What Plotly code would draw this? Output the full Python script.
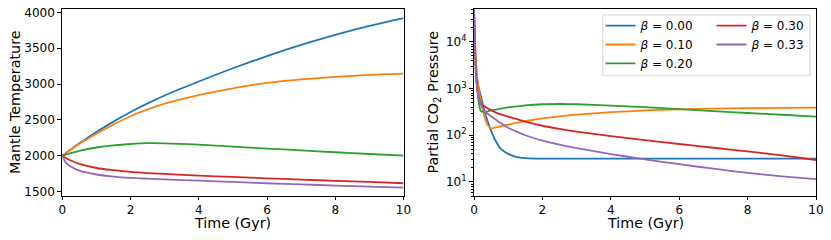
import plotly.graph_objects as go

# ---------------- data ----------------
t_left = [0, 0.1, 0.25, 0.5, 1, 1.5, 2, 2.5, 3, 4, 5, 6, 7, 8, 9, 10]
temp_b000 = [2000, 2035, 2088, 2172, 2330, 2475, 2610, 2730, 2840, 3035, 3220, 3390, 3545, 3685, 3810, 3920]
temp_b010 = [2000, 2034, 2085, 2165, 2305, 2435, 2550, 2645, 2725, 2845, 2940, 3015, 3065, 3100, 3128, 3145]
temp_b020 = [2000, 2016, 2037, 2068, 2114, 2144, 2163, 2174, 2172, 2153, 2127, 2099, 2074, 2048, 2023, 2000]
temp_b030 = [2000, 1968, 1932, 1884, 1828, 1797, 1773, 1757, 1745, 1721, 1703, 1684, 1666, 1648, 1633, 1615]
temp_b033 = [2000, 1905, 1848, 1790, 1737, 1708, 1690, 1679, 1669, 1651, 1633, 1615, 1598, 1583, 1569, 1553]

t_right = [0, 0.05, 0.1, 0.15, 0.2, 0.3, 0.4, 0.5, 0.6, 0.7, 0.8, 1.0, 1.2, 1.5, 2, 2.5, 3, 4, 5, 6, 7, 8, 9, 10]
pco2_b000 = [5e4, 4000, 1500, 950, 700, 340, 200, 125, 85, 62, 50, 40, 35, 32.5, 31.5, 31.5, 31.5, 31.5, 31.5, 31.5, 31.5, 31.5, 31.5, 31.5]
pco2_b010 = [5e4, 5000, 1500, 850, 550, 260, 165, 140, 145, 152, 158, 170, 182, 202, 230, 255, 277, 312, 340, 360, 372, 380, 386, 392]
pco2_b020 = [5e4, 3000, 900, 450, 330, 316, 325, 340, 352, 362, 372, 395, 412, 437, 462, 468, 462, 432, 400, 364, 330, 300, 275, 250]
pco2_b030 = [5e4, 2500, 900, 600, 480, 420, 380, 345, 318, 295, 278, 250, 228, 197, 160, 137, 120, 96, 79, 65, 54, 45, 37, 29.5]
pco2_b033 = [5e4, 2500, 900, 580, 450, 340, 290, 255, 225, 200, 180, 145, 124, 100, 77, 63, 53, 39.5, 30.5, 24, 19.2, 15.6, 13.2, 11.5]

beta_labels = ["0.00", "0.10", "0.20", "0.30", "0.33"]
colors = ["#1f77b4", "#ff7f0e", "#2ca02c", "#d62728", "#9467bd"]
temp_series = [temp_b000, temp_b010, temp_b020, temp_b030, temp_b033]
pco2_series = [pco2_b000, pco2_b010, pco2_b020, pco2_b030, pco2_b033]

temp_ticks = [1500, 2000, 2500, 3000, 3500, 4000]
time_ticks = [0, 2, 4, 6, 8, 10]
p_ticks = [10, 100, 1000, 10000]
p_ticktext = ["10<sup>1</sup>", "10<sup>2</sup>", "10<sup>3</sup>", "10<sup>4</sup>"]
p_minor = [m * 10 ** e for e in range(0, 5) for m in range(2, 10) if 5 <= m * 10 ** e <= 5e4]

x_title = "Time (Gyr)"
y_title_left = "Mantle Temperature"
y_title_right = "Partial CO<sub>2</sub> Pressure"

# ---------------- figure ----------------
# the page body has an 8px margin, so the figure is 8px smaller and
# window-pixel positions are converted to paper fractions accordingly
OFF = 8
W, H = 831 - OFF, 240 - OFF


def xp(px):
    return (px - OFF) / W


def yp(py):
    return (H - (py - OFF)) / H


FONT = "DejaVu Sans"
TITLE_SIZE = 14.3
fig = go.Figure()

# legend slots (column-major like the reference): x of slot, y of row centre
legend_names = ["legend", "legend2", "legend3", "legend4", "legend5"]
legend_x = [600.5, 600.5, 600.5, 711.5, 711.5]
legend_y = [25.7, 44.5, 63.3, 25.7, 44.5]

for i in range(5):
    fig.add_trace(go.Scatter(x=t_left, y=temp_series[i], mode="lines",
                             line=dict(color=colors[i], width=1.8, shape="spline", smoothing=0.8),
                             xaxis="x", yaxis="y", showlegend=False))
for i in range(5):
    fig.add_trace(go.Scatter(x=t_right, y=pco2_series[i], mode="lines",
                             line=dict(color=colors[i], width=1.8, shape="spline", smoothing=0.6),
                             xaxis="x2", yaxis="y2",
                             name="<i>β</i> = " + beta_labels[i],
                             legend=legend_names[i]))

ydom = [yp(196), yp(9.3)]
axis_common = dict(showline=True, linecolor="black", linewidth=1, mirror=True,
                   ticks="outside", tickwidth=1, tickcolor="black",
                   showgrid=False, zeroline=False, automargin=False,
                   ticklabeloverflow="allow",
                   tickfont=dict(family=FONT, size=12, color="black"))

legends = {}
for i, nm in enumerate(legend_names):
    legends[nm] = dict(x=xp(legend_x[i]), y=yp(legend_y[i]), xanchor="left", yanchor="middle",
                       bgcolor="rgba(0,0,0,0)", borderwidth=0,
                       font=dict(family=FONT, size=12, color="black"))

annotations = [
    dict(text=x_title, x=xp((62.3 + 403.5) / 2), y=yp(222.5), xref="paper", yref="paper",
         xanchor="center", yanchor="middle", showarrow=False, font=dict(size=TITLE_SIZE)),
    dict(text=x_title, x=xp((474 + 816) / 2), y=yp(222.5), xref="paper", yref="paper",
         xanchor="center", yanchor="middle", showarrow=False, font=dict(size=TITLE_SIZE)),
    dict(text=y_title_left, x=xp(14.5), y=yp(102.6), xref="paper", yref="paper",
         xanchor="center", yanchor="middle", textangle=-90, showarrow=False,
         font=dict(size=TITLE_SIZE)),
    dict(text=y_title_right, x=xp(434), y=yp(102.6), xref="paper", yref="paper",
         xanchor="center", yanchor="middle", textangle=-90, showarrow=False,
         font=dict(size=TITLE_SIZE)),
]

fig.update_layout(
    width=W, height=H, margin=dict(l=0, r=0, t=0, b=0, autoexpand=False),
    paper_bgcolor="white", plot_bgcolor="white",
    font=dict(family=FONT, size=12, color="black"),
    xaxis=dict(domain=[xp(62.3), xp(403.5)], range=[0, 10], tickvals=time_ticks, ticklen=3,
               anchor="y", **axis_common),
    yaxis=dict(domain=ydom, range=[1437, 4043], tickvals=temp_ticks, ticklen=4,
               anchor="x", **axis_common),
    xaxis2=dict(domain=[xp(474), xp(816)], range=[0, 10], tickvals=time_ticks, ticklen=3,
                anchor="y2", **axis_common),
    yaxis2=dict(domain=ydom, type="log", range=[0.69897, 4.69897], ticklen=4,
                tickvals=p_ticks, ticktext=p_ticktext,
                minor=dict(tickvals=p_minor, ticks="outside", ticklen=2, tickcolor="black"),
                anchor="x2", **axis_common),
    annotations=annotations,
    shapes=[dict(type="rect", xref="paper", yref="paper",
                 x0=xp(602.7), x1=xp(810), y0=yp(75.7), y1=yp(15),
                 line=dict(color="#d5d5d5", width=1), fillcolor="rgba(255,255,255,0.8)",
                 layer="above")],
    **legends,
)

fig.write_html("out.html")
